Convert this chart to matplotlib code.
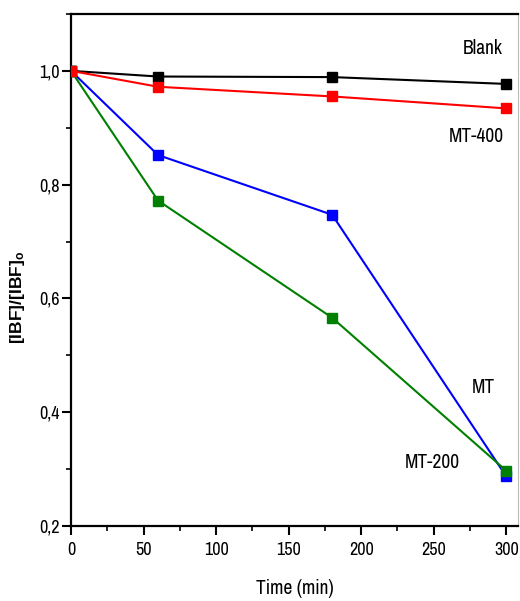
import matplotlib
matplotlib.use("Agg")
import matplotlib.pyplot as plt
from matplotlib.ticker import MultipleLocator, FuncFormatter

time = [0, 60, 180, 300]
blank = [1.0, 0.990, 0.989, 0.977]
mt400 = [1.0, 0.972, 0.955, 0.934]
mt = [1.0, 0.852, 0.747, 0.287]
mt200 = [1.0, 0.772, 0.566, 0.297]

series = [
    ("Blank", blank, "black", (284, 1.040)),
    ("MT", mt, "blue", (284, 0.443)),
    ("MT-200", mt200, "green", (249, 0.312)),
    ("MT-400", mt400, "red", (279, 0.884)),
]

NARROW = ['Archivo Narrow', 'Liberation Sans', 'DejaVu Sans']
plt.rcParams['font.family'] = NARROW
plt.rcParams['mathtext.default'] = 'regular'

fig = plt.figure(figsize=(5.2, 6.01), dpi=100)
ax = fig.add_axes([0.1365, 0.1248, 0.8595, 0.852])

for name, vals, col, (tx, ty) in series:
    ax.plot(time, vals, color=col, lw=1.5, marker='s', ms=7.5, mec=col, mfc=col, zorder=3)
    ax.text(tx, ty, name, ha='center', va='center', fontsize=14, color='black')

ax.set_xlim(0, 308)
ax.set_ylim(0.2, 1.1)
ax.xaxis.set_major_locator(MultipleLocator(50))
ax.xaxis.set_minor_locator(MultipleLocator(25))
ax.yaxis.set_major_locator(MultipleLocator(0.2))
ax.yaxis.set_minor_locator(MultipleLocator(0.1))
ax.yaxis.set_major_formatter(FuncFormatter(lambda v, p: f"{v:.1f}".replace('.', ',')))
ax.tick_params(which='major', direction='out', length=6.5, width=1.5, labelsize=13)
ax.tick_params(which='minor', direction='out', length=3.5, width=1.2)
ax.tick_params(axis='x', which='major', pad=5)
ax.tick_params(axis='y', which='major', pad=1.5)
ax.tick_params(top=False, right=False)

for s in ['left', 'bottom', 'top']:
    ax.spines[s].set_linewidth(1.6)
ax.spines['right'].set_linewidth(0.8)
ax.spines['right'].set_color('#bbbbbb')

ax.set_xlabel("Time (min)", fontsize=14, va='top')
ax.xaxis.set_label_coords(0.501, -0.103)
ax.set_ylabel("[IBF]/[IBF]$_o$", fontsize=12.5, fontweight='bold',
              family=['Liberation Sans', 'DejaVu Sans'])
ax.yaxis.set_label_coords(-0.098, 0.447)

fig.savefig("out.png", dpi=100, facecolor='white')
